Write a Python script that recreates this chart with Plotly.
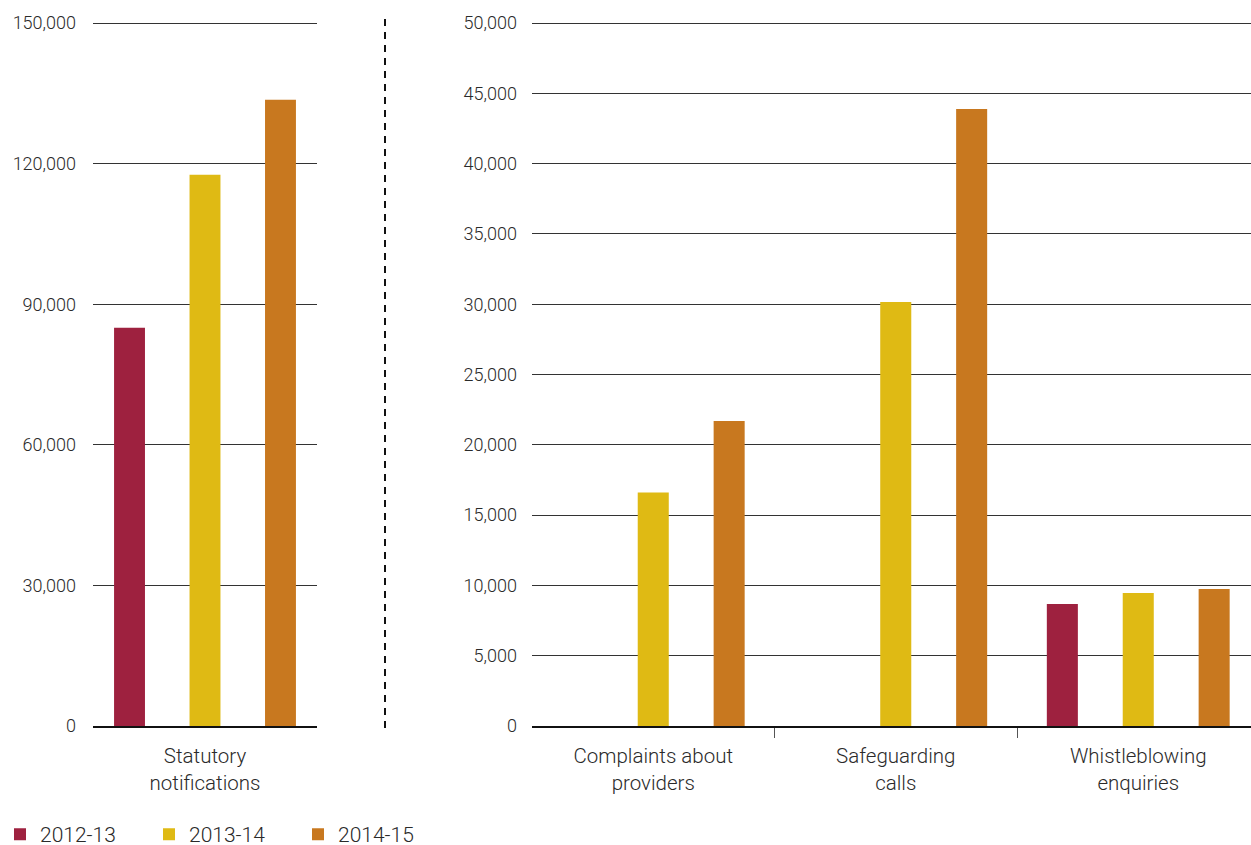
import plotly.graph_objects as go

# Data
years = ["2012-13", "2013-14", "2014-15"]
colors = ["#9e213f", "#dfba14", "#c8781f"]

left_categories = ["Statutory<br>notifications"]
left_values = {
    "2012-13": [85000],
    "2013-14": [117600],
    "2014-15": [133600],
}

right_categories = ["Complaints about<br>providers", "Safeguarding<br>calls", "Whistleblowing<br>enquiries"]
right_values = {
    "2012-13": [None, None, 8680],
    "2013-14": [16600, 30150, 9460],
    "2014-15": [21700, 43880, 9740],
}

left_ticks = [0, 30000, 60000, 90000, 120000, 150000]
right_ticks = list(range(0, 50001, 5000))

# Layout geometry (paper fractions)
W, H = 1251, 845
plot_top, plot_bottom = 23, 726
head = 2  # small headroom so the top gridline is drawn
y_domain = [(H - plot_bottom) / H, (H - plot_top + head) / H]
left_max, right_max = 150000, 50000
left_range = [0, left_max * (plot_bottom - plot_top + head) / (plot_bottom - plot_top)]
right_range = [0, right_max * (plot_bottom - plot_top + head) / (plot_bottom - plot_top)]
left_dom = [93 / W, 317 / W]
right_dom = [532 / W, 1.0]

# bar width and slot spacing in category units for each panel
left_bar_w, left_slot = 0.138, 0.337
right_bar_w, right_slot = 0.128, 0.313

family = "Roboto, 'Liberation Sans', Arial, sans-serif"
tick_font = dict(family=family, size=18, color="#2a2a2a", weight=300)
cat_font = dict(family=family, size=20.5, color="#2a2a2a", weight=300)
legend_font = dict(family=family, size=21, color="#2a2a2a", weight=300)

fig = go.Figure()

for i, yr in enumerate(years):
    fig.add_trace(go.Bar(
        x=list(range(len(left_categories))), y=left_values[yr], name=yr,
        marker=dict(color=colors[i], line=dict(width=0)),
        width=left_bar_w, offset=(i - 1) * left_slot - left_bar_w / 2,
        xaxis="x", yaxis="y", legendgroup=yr, showlegend=True,
        hoverinfo="y",
    ))
    fig.add_trace(go.Bar(
        x=list(range(len(right_categories))), y=right_values[yr], name=yr,
        marker=dict(color=colors[i], line=dict(width=0)),
        width=right_bar_w, offset=(i - 1) * right_slot - right_bar_w / 2,
        xaxis="x2", yaxis="y2", legendgroup=yr, showlegend=False,
        hoverinfo="y",
    ))

fig.update_layout(
    width=W, height=H,
    margin=dict(l=0, r=0, t=0, b=0, autoexpand=False),
    paper_bgcolor="white", plot_bgcolor="white",
    barmode="overlay",
    font=tick_font,
    showlegend=True,
    legend=dict(
        orientation="h", x=0.0, xanchor="left", y=-0.012, yanchor="bottom",
        entrywidth=104, entrywidthmode="pixels",
        font=legend_font, bgcolor="rgba(0,0,0,0)", traceorder="normal",
    ),
    xaxis=dict(
        domain=left_dom, anchor="y", range=[-0.5, 0.5],
        tickmode="array", tickvals=list(range(len(left_categories))), ticktext=left_categories,
        showline=True, linecolor="#111", linewidth=1.5, ticks="",
        showgrid=False, zeroline=False, tickfont=cat_font, ticklabelstandoff=11,
    ),
    yaxis=dict(
        domain=y_domain, anchor="x", range=left_range,
        tickmode="array", tickvals=left_ticks, tickformat=",d",
        showgrid=True, gridcolor="#333", gridwidth=1, zeroline=False,
        showline=False, ticks="", ticklabelstandoff=16, tickfont=tick_font,
    ),
    xaxis2=dict(
        domain=right_dom, anchor="y2", range=[-0.5, -0.5 + (W - 532) / 242.5],
        tickmode="array", tickvals=list(range(len(right_categories))), ticktext=right_categories,
        showline=True, linecolor="#111", linewidth=1.5, ticks="",
        minor=dict(tickmode="array", tickvals=[0.5, 1.5], ticks="outside",
                   ticklen=10, tickwidth=1, tickcolor="#555", showgrid=False),
        showgrid=False, zeroline=False, tickfont=cat_font, ticklabelstandoff=11,
    ),
    yaxis2=dict(
        domain=y_domain, anchor="x2", range=right_range,
        tickmode="array", tickvals=right_ticks, tickformat=",d",
        showgrid=True, gridcolor="#333", gridwidth=1, zeroline=False,
        showline=False, ticks="", ticklabelstandoff=14, tickfont=tick_font,
    ),
    shapes=[dict(
        type="line", xref="paper", yref="paper",
        x0=385 / W, x1=385 / W, y0=(H - 728) / H, y1=(H - 15) / H,
        line=dict(color="#111", width=2, dash="7px,6px"),
    )],
)

fig.write_html("out.html")
